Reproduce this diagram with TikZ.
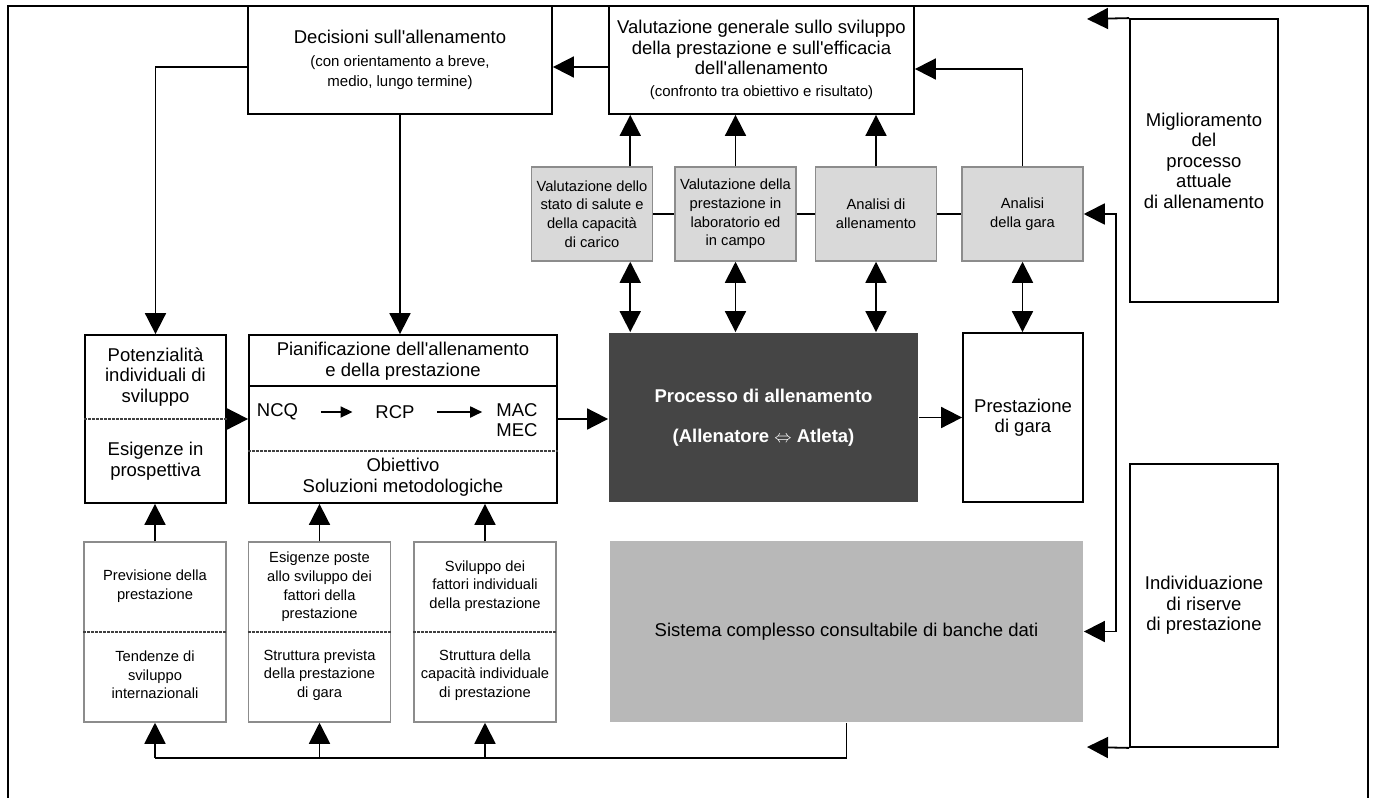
\documentclass[tikz,border=0pt]{standalone}
\usepackage{fontspec}
\setmainfont{Liberation Sans}
\usetikzlibrary{arrows.meta}
\newcommand\bigf{\fontsize{18.5}{20.5}\selectfont}
\newcommand\smallf{\fontsize{14.7}{18.6}\selectfont}
\newcommand\parf{\fontsize{15}{20}\selectfont}
\begin{document}
\begin{tikzpicture}[x=1pt, y=-1pt, line width=1.8pt, >={Triangle[length=21pt,width=21pt]}, every node/.style={font=\bigf,align=center}]
  \tikzstyle{wbox}=[draw,fill=white]
  \tikzstyle{gbox}=[draw=black!45,fill=black!15,line width=1.5pt,minimum width=121pt,minimum height=94pt,font=\smallf]
  \tikzstyle{lbox}=[draw=black!45,line width=1.5pt,minimum width=142pt,minimum height=180pt]
  \tikzstyle{txt}=[font=\smallf]
  \tikzstyle{code}=[inner xsep=22pt]
  \tikzstyle{sep}=[line width=1.2pt,dash pattern=on 3pt off 1pt,black!75]
  \tikzstyle{sarr}=[-{Triangle[length=12pt,width=11pt]},line width=1.8pt]
  \useasboundingbox (0,0) rectangle (1374,798);
  \draw[line width=1.5pt] (8,798) -- (8,6) -- (1368,6) -- (1368,798);
  \node[wbox,minimum width=304pt,minimum height=108pt] (dec) at (400,60) {Decisioni sull\textquotesingle allenamento\\[2pt]\parf(con orientamento a breve,\\\parf medio, lungo termine)};
  \node[wbox,minimum width=305pt,minimum height=108pt] (val) at (761.5,60) {Valutazione generale sullo sviluppo\\della prestazione e sull\textquotesingle efficacia\\dell\textquotesingle allenamento\\[1pt]\parf(confronto tra obiettivo e risultato)};
  \node[gbox] (g1) at (592,214) {Valutazione dello\\stato di salute e\\della capacità\\di carico};
  \node[gbox] (g2) at (735.5,214) {Valutazione della\\prestazione in\\laboratorio ed\\in campo};
  \node[gbox] (g3) at (876,214) {Analisi di\\allenamento};
  \node[gbox] (g4) at (1022.5,214) {Analisi\\della gara};
  \node[wbox,minimum width=148pt,minimum height=283pt] (mig) at (1204,160.5) {Miglioramento\\del\\processo\\attuale\\di allenamento};
  \node[wbox,minimum width=148pt,minimum height=283pt] (ind) at (1204,605.5) {Individuazione\\di riserve\\di prestazione};
  \node[wbox,minimum width=141pt,minimum height=168pt] (pot) at (155.5,419) {};
  \node (potA) at (155.5,377) {Potenzialità\\individuali di\\sviluppo};
  \node (potB) at (155.5,461) {Esigenze in\\prospettiva};
  \node[wbox,minimum width=308pt,minimum height=168pt] (pian) at (403,419) {};
  \node (pianA) at (403,361) {Pianificazione dell\textquotesingle allenamento\\e della prestazione};
  \node[code] (ncq) at (277.5,412) {NCQ};
  \node[code] (rcp) at (395,412) {RCP};
  \node (mac) at (517,420) {MAC\\MEC};
  \node (pianB) at (403,477) {Obiettivo\\Soluzioni metodologiche};
  \node[fill=black!73,text=white,font=\bigf\bfseries,minimum width=309pt,minimum height=169pt] (pr) at (763.5,417.5) {Processo di allenamento\\[20pt](Allenatore $\Leftrightarrow$ Atleta)};
  \node[wbox,minimum width=120pt,minimum height=169pt] (pg) at (1023,417.5) {Prestazione\\di gara};
  \node[fill=black!28,minimum width=473pt,minimum height=181pt] (sis) at (846.5,631.5) {Sistema complesso consultabile di banche dati};
  \node[lbox] (prev) at (155,632) {};
  \node[lbox] (esig) at (319.5,632) {};
  \node[lbox] (svil) at (485,632) {};
  \node[txt] (prevA) at (155,586) {Previsione della\\prestazione};
  \node[txt] (prevB) at (155,675) {Tendenze di\\sviluppo\\internazionali};
  \node[txt] (esigA) at (319.5,587) {Esigenze poste\\allo sviluppo dei\\fattori della\\prestazione};
  \node[txt] (esigB) at (319.5,675) {Struttura prevista\\della prestazione\\di gara};
  \node[txt] (svilA) at (485,586) {Sviluppo dei\\fattori individuali\\della prestazione};
  \node[txt] (svilB) at (485,675) {Struttura della\\capacità individuale\\di prestazione};
  \coordinate (rc) at (1116,0); \coordinate (bc) at (0,758);
  \coordinate (mt) at (1087,19); \coordinate (it) at (1087,747);
  \draw[sep] (pot.west) -- (pot.east);
  \draw[line width=1.5pt] ([yshift=33pt]pian.west) -- ([yshift=33pt]pian.east);
  \draw[sep] ([yshift=-32pt]pian.west) -- ([yshift=-32pt]pian.east);
  \draw[sep] (prev.west) -- (prev.east); \draw[sep] (esig.west) -- (esig.east); \draw[sep] (svil.west) -- (svil.east);
  \draw[sarr] (ncq) -- (rcp); \draw[sarr,shorten >=10pt] (rcp) -- (rcp -| mac.west);
  \draw (g1) -- (g2); \draw (g2) -- (g3); \draw (g3) -- (g4);
  \draw[->] ([yshift=-7pt]val.west) -- ([yshift=-7pt]dec.east);
  \draw[->] ([yshift=-7pt]dec.west) -| (pot.north);
  \draw[->] (dec.south) -- (dec.south |- pian.north);
  \draw[->] ([xshift=-23pt]g1.north east) -- ([xshift=-23pt]g1.north east |- val.south);
  \draw[->] (g2.north) -- (g2.north |- val.south); \draw[->] (g3.north) -- (g3.north |- val.south);
  \draw[->] (g4.north) |- ([yshift=-9pt]val.east);
  \draw[<->] ([xshift=-23pt]g1.south east) -- ([xshift=-23pt]g1.south east |- pr.north);
  \draw[<->] (g2.south) -- (g2.south |- pr.north); \draw[<->] (g3.south) -- (g3.south |- pr.north);
  \draw[<->] (g4.south) -- (g4.south |- pg.north);
  \draw[->] (pot.east) -- (pot.east -| pian.west); \draw[->] (pian.east) -- (pian.east -| pr.west); \draw[->] (pr.east) -- (pg.west);
  \draw[->] (prev.north) -- (prev.north |- pot.south);
  \draw[->] (esig.north) -- (esig.north |- pian.south); \draw[->] (svil.north) -- (svil.north |- pian.south);
  \draw[<->] (g4.east) -- (g4.east -| rc) -- (sis.east -| rc) -- (sis.east);
  \draw (sis.south) -- (sis.south |- bc) -- (prev.south |- bc);
  \draw[->] (prev.south |- bc) -- (prev.south); \draw[->] (esig.south |- bc) -- (esig.south); \draw[->] (svil.south |- bc) -- (svil.south);
  \draw[->] (mig.north west) -- (mt); \draw[->] (ind.south west) -- (it);
\end{tikzpicture}
\end{document}
